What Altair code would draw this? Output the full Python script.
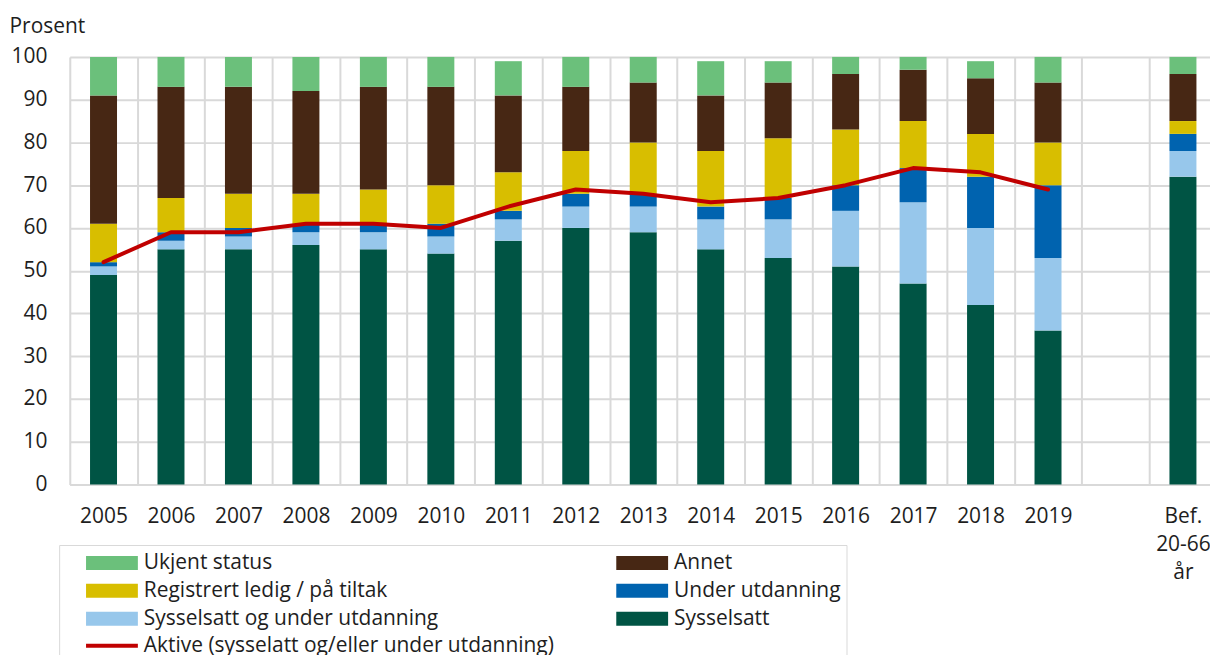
import altair as alt
import pandas as pd

# ---- data ----
years = ["2005", "2006", "2007", "2008", "2009", "2010", "2011", "2012",
         "2013", "2014", "2015", "2016", "2017", "2018", "2019"]
gap = " "
bef = "Bef. 20-66 år"
categories = years + [gap, bef]
bar_categories = years + [bef]

sysselsatt = [49, 55, 55, 56, 55, 54, 57, 60, 59, 55, 53, 51, 47, 42, 36, 72]
sys_og_utd = [2, 2, 3, 3, 4, 4, 5, 5, 6, 7, 9, 13, 19, 18, 17, 6]
under_utd = [1, 2, 2, 2, 2, 3, 2, 3, 3, 3, 5, 6, 8, 12, 17, 4]
registrert = [9, 8, 8, 7, 8, 9, 9, 10, 12, 13, 14, 13, 11, 10, 10, 3]
annet = [30, 26, 25, 24, 24, 23, 18, 15, 14, 13, 13, 13, 12, 13, 14, 11]
ukjent = [9, 7, 7, 8, 7, 7, 8, 7, 6, 8, 5, 4, 3, 4, 6, 4]

aktive = [52, 59, 59, 61, 61, 60, 65, 69, 68, 66, 67, 70, 74, 73, 69]

# legend order (filled column by column: left column first, then right column)
series_names = ["Ukjent status", "Registrert ledig / på tiltak", "Sysselsatt og under utdanning",
                "Annet", "Under utdanning", "Sysselsatt"]
series_colors = ["#6BC07B", "#D8BE00", "#97C7EB", "#472714", "#0063AF", "#005444"]
line_name = "Aktive (sysselatt og/eller under utdanning)"
line_color = "#C00000"

# stacking order: bottom -> top
stack_values = {
    "Sysselsatt": sysselsatt,
    "Sysselsatt og under utdanning": sys_og_utd,
    "Under utdanning": under_utd,
    "Registrert ledig / på tiltak": registrert,
    "Annet": annet,
    "Ukjent status": ukjent,
}

rows = []
for order, (name, vals) in enumerate(stack_values.items()):
    for cat, v in zip(bar_categories, vals):
        rows.append({"kategori": cat, "serie": name, "verdi": v, "rekkefolge": order})
bars_df = pd.DataFrame(rows)
line_df = pd.DataFrame({"kategori": years, "verdi": aktive, "serie": line_name})

FONT = "Open Sans"
GRID = "#D9D9D9"
TEXT = "#1E1E1E"
NBSP = "\u00a0"

x_scale = alt.Scale(domain=categories, range=[0, 1150.7], paddingInner=0, paddingOuter=0)
y_scale = alt.Scale(domain=[0, 100], nice=False)
color_scale = alt.Scale(domain=series_names, range=series_colors)
stroke_scale = alt.Scale(domain=[line_name], range=[line_color])

swatch_path = "M-1,-0.27L1,-0.27L1,0.27L-1,0.27Z"

common_legend = dict(
    orient="none",
    legendX=-10.7,
    labelFont=FONT,
    labelFontSize=21,
    labelColor=TEXT,
    labelLimit=900,
    symbolSize=2704,
    padding=5,
)

# trailing blank space on one right-column label only widens the legend frame,
# the blank title only lengthens it downwards
frame_pad = NBSP * 50
bar_legend = alt.Legend(
    title=[NBSP] * 5,
    titleOrient="right",
    titlePadding=0,
    titleLineHeight=28,
    titleFontSize=21,
    legendY=489.7,
    columns=2,
    gridAlign="each",
    strokeColor=GRID,
    symbolType=swatch_path,
    symbolStrokeWidth=0,
    symbolOffset=22,
    labelOffset=6,
    columnPadding=156,
    clipHeight=26,
    rowPadding=2,
    labelExpr=f"datum.value === 'Under utdanning' ? datum.label + '{frame_pad}' : datum.label",
    **common_legend,
)

line_legend = alt.Legend(
    title=None,
    legendY=571.7,
    symbolType="stroke",
    symbolStrokeWidth=4,
    symbolStrokeColor=line_color,
    symbolOffset=20,
    labelOffset=4,
    clipHeight=28,
    **common_legend,
)

x_enc = alt.X(
    "kategori:N",
    scale=x_scale,
    sort=categories,
    title=None,
    axis=alt.Axis(
        grid=True,
        tickBand="extent",
        gridColor=GRID,
        gridWidth=2,
        domainColor=GRID,
        domainWidth=2,
        ticks=False,
        tickSize=0,
        labelAngle=0,
        labelFont=FONT,
        labelFontSize=21,
        labelColor=TEXT,
        labelPadding=21,
        labelBaseline="top",
        labelLineHeight=28,
        labelExpr=f"datum.value === '{bef}' ? ['Bef.', '20-66', 'år'] : datum.label",
    ),
)
y_enc = alt.Y(
    "verdi:Q",
    scale=y_scale,
    stack="zero",
    axis=alt.Axis(
        values=list(range(0, 101, 10)),
        grid=True,
        gridColor=GRID,
        gridWidth=2,
        domain=False,
        ticks=False,
        tickSize=0,
        labelFont=FONT,
        labelFontSize=21,
        labelColor=TEXT,
        labelPadding=23,
        title="Prosent",
        titleFont=FONT,
        titleFontSize=21,
        titleFontWeight="normal",
        titleColor=TEXT,
        titleAngle=0,
        titleAlign="left",
        titleBaseline="alphabetic",
        titleX=-61,
        titleY=-24,
    ),
)

bars = alt.Chart(bars_df).mark_bar(width=alt.RelativeBandSize(0.4)).encode(
    x=x_enc,
    y=y_enc,
    color=alt.Color("serie:N", scale=color_scale, legend=bar_legend),
    order=alt.Order("rekkefolge:Q", sort="ascending"),
)

line = alt.Chart(line_df).mark_line(strokeWidth=4, strokeJoin="round", strokeCap="round").encode(
    x=alt.X("kategori:N", scale=x_scale, sort=categories),
    y=alt.Y("verdi:Q", scale=y_scale),
    stroke=alt.Stroke("serie:N", scale=stroke_scale, legend=line_legend),
)

chart = alt.layer(bars, line).properties(
    width=1144,
    height=429,
    autosize=alt.AutoSizeParams(type="none"),
    padding={"left": 62, "top": 48, "right": 0, "bottom": 170},
).configure_view(stroke=None).configure(background="white")

chart.save("out.html", embed_options={"renderer": "svg", "actions": False})
